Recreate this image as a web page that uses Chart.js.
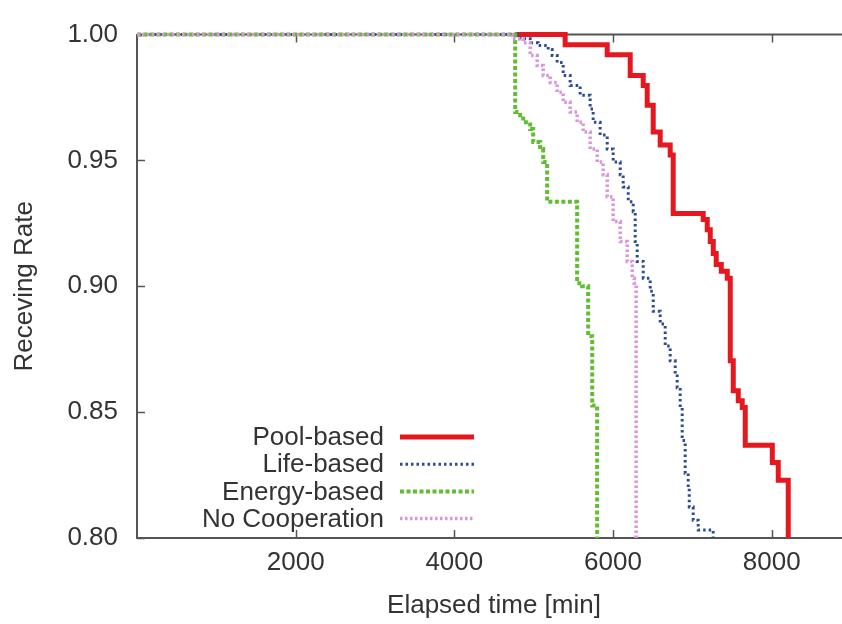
<!DOCTYPE html>
<html><head><meta charset="utf-8">
<script src="https://cdn.jsdelivr.net/npm/chart.js@4/dist/chart.umd.min.js"></script>
<style>html,body{margin:0;padding:0;background:#fff;overflow:hidden}#wrap{width:852px;height:624px}</style>
</head><body><div id="wrap"><canvas id="c" width="852" height="624"></canvas></div>
<script>
// ---- data ----
const xTicks = [2000, 4000, 6000, 8000];
const yTicks = [0.80, 0.85, 0.90, 0.95, 1.00];
const seriesNames = ['Pool-based', 'Life-based', 'Energy-based', 'No Cooperation'];

const poolTime = [4767, 5397, 5927, 6217, 6381, 6431, 6507, 6595, 6721, 6759, 7137, 7188, 7226, 7264, 7301, 7365, 7440, 7478, 7516, 7579, 7629, 7667, 8008, 8083, 8209];
const poolRate = [1.0, 0.996, 0.992, 0.9838, 0.9798, 0.9719, 0.9613, 0.9561, 0.9522, 0.9289, 0.9265, 0.9225, 0.9178, 0.913, 0.9087, 0.906, 0.9032, 0.8704, 0.8585, 0.8545, 0.8518, 0.8368, 0.83, 0.8229, 0.80];

const lifeTime = [0, 4830, 4956, 5057, 5183, 5233, 5296, 5372, 5460, 5586, 5712, 5750, 5838, 5927, 6002, 6091, 6128, 6192, 6255, 6280, 6305, 6381, 6469, 6507, 6595, 6658, 6721, 6784, 6809, 6847, 6872, 6910, 6948, 6961, 7011, 7074, 7263];
const lifeRate = [1.0, 0.9984, 0.9968, 0.9957, 0.9941, 0.9917, 0.9889, 0.9838, 0.9798, 0.9759, 0.9704, 0.9652, 0.9601, 0.9545, 0.9494, 0.9443, 0.9395, 0.9336, 0.9296, 0.9178, 0.9099, 0.9032, 0.898, 0.8901, 0.885, 0.8763, 0.8704, 0.8652, 0.8597, 0.8518, 0.8387, 0.8257, 0.8202, 0.8123, 0.8071, 0.8032, 0.80];

const energyTime = [0, 4767, 4830, 4868, 4956, 4994, 5082, 5120, 5170, 5548, 5611, 5687, 5738, 5800];
const energyRate = [1.0, 0.9692, 0.968, 0.9652, 0.9625, 0.9573, 0.9545, 0.9494, 0.9336, 0.9012, 0.90, 0.8802, 0.8526, 0.80];

const noCoopTime = [0, 4729, 4868, 4956, 5044, 5120, 5208, 5296, 5372, 5460, 5548, 5624, 5712, 5801, 5876, 5927, 6002, 6091, 6179, 6242, 6267, 6292];
const noCoopRate = [1.0, 0.9984, 0.9968, 0.9917, 0.9877, 0.9838, 0.981, 0.9771, 0.9731, 0.9692, 0.9652, 0.9613, 0.9545, 0.9494, 0.9443, 0.9356, 0.9257, 0.9178, 0.9099, 0.9032, 0.9012, 0.80];

const FONT = 'Liberation Sans, Arial, Helvetica, sans-serif';
const TXT = '#333333';
const pts = (t, r) => t.map((v, i) => ({x: v, y: r[i]}));

const datasets = [
  {label: seriesNames[0], data: pts(poolTime, poolRate), borderColor: '#e5171f', borderWidth: 5, borderDash: [], order: 3},
  {label: seriesNames[1], data: pts(lifeTime, lifeRate), borderColor: '#2c4b93', borderWidth: 3, borderDash: [2.5, 3], order: 2},
  {label: seriesNames[2], data: pts(energyTime, energyRate), borderColor: '#62bd33', borderWidth: 4, borderDash: [4, 2.5], order: 1},
  {label: seriesNames[3], data: pts(noCoopTime, noCoopRate), borderColor: '#d996d9', borderWidth: 3.5, borderDash: [2.5, 2.5], order: 0}
].map(d => Object.assign(d, {stepped: true, pointRadius: 0, fill: false, borderCapStyle: 'butt', clip: {left: 0, top: 4, right: 0, bottom: 0}}));

const framePlugin = {
  id: 'frame',
  beforeDatasetsDraw(chart) {
    const {ctx, chartArea: a, scales: {x, y}} = chart;
    ctx.save();
    ctx.strokeStyle = '#555';
    ctx.lineWidth = 2;
    ctx.beginPath(); ctx.moveTo(a.left, a.top); ctx.lineTo(a.right, a.top); ctx.stroke();
    ctx.lineWidth = 1.5;
    xTicks.forEach(v => {
      const px = Math.round(x.getPixelForValue(v)) + 0.5;
      ctx.beginPath();
      ctx.moveTo(px, a.bottom); ctx.lineTo(px, a.bottom - 8);
      ctx.moveTo(px, a.top); ctx.lineTo(px, a.top + 8);
      ctx.stroke();
    });
    yTicks.forEach(v => {
      const py = Math.round(y.getPixelForValue(v)) + 0.5;
      ctx.beginPath(); ctx.moveTo(a.left, py); ctx.lineTo(a.left + 8, py); ctx.stroke();
    });
    ctx.restore();
  },
  afterDatasetsDraw(chart) {
    const {ctx} = chart;
    ctx.save();
    ctx.font = '26px ' + FONT;
    ctx.textAlign = 'right';
    ctx.textBaseline = 'middle';
    chart.data.datasets.forEach((d, i) => {
      const yy = 437 + i * 27.2;
      ctx.fillStyle = TXT;
      ctx.fillText(d.label, 384, yy + 1);
      ctx.strokeStyle = d.borderColor;
      ctx.lineWidth = d.borderWidth;
      ctx.lineCap = 'butt';
      ctx.setLineDash(d.borderDash);
      ctx.beginPath(); ctx.moveTo(400, yy); ctx.lineTo(474, yy); ctx.stroke();
    });
    ctx.restore();
  }
};

new Chart(document.getElementById('c'), {
  type: 'line',
  data: {datasets},
  options: {
    responsive: false,
    animation: false,
    layout: {padding: {left: 0, top: 32, right: 1, bottom: 0}},
    plugins: {legend: {display: false}, tooltip: {enabled: false}},
    scales: {
      x: {
        type: 'linear', min: 0, max: 9000,
        afterBuildTicks: s => { s.ticks = xTicks.map(v => ({value: v})); },
        afterFit: s => { s.height = 86; },
        grid: {display: false, drawTicks: false},
        border: {display: true, color: '#555', width: 2},
        ticks: {color: TXT, font: {family: FONT, size: 26}, padding: 9, maxRotation: 0, autoSkip: false, callback: v => String(v)},
        title: {display: true, text: 'Elapsed time [min]', color: TXT, font: {family: FONT, size: 26}, padding: {top: 0, bottom: 3}}
      },
      y: {
        type: 'linear', min: 0.8, max: 1.0,
        afterBuildTicks: s => { s.ticks = yTicks.map(v => ({value: v})); },
        afterFit: s => { s.width = 137; },
        grid: {display: false, drawTicks: false},
        border: {display: true, color: '#555', width: 2},
        ticks: {color: TXT, font: {family: FONT, size: 26}, padding: 19, callback: v => Number(v).toFixed(2)},
        title: {display: true, text: 'Receving Rate', color: TXT, font: {family: FONT, size: 26}, padding: {top: 9, bottom: 0}}
      }
    }
  },
  plugins: [framePlugin]
});
</script>
</body></html>
